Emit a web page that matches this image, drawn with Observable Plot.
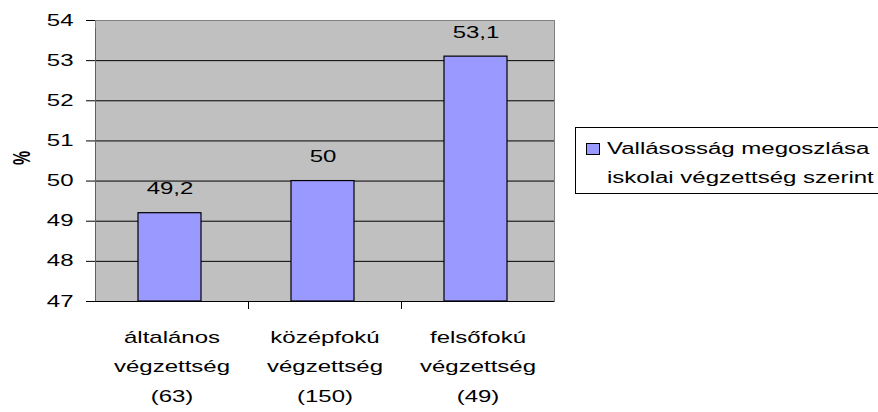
<!DOCTYPE html>
<html>
<head>
<meta charset="utf-8">
<script src="https://cdn.jsdelivr.net/npm/d3@7"></script>
<script src="https://cdn.jsdelivr.net/npm/@observablehq/plot@0.6"></script>
<style>
  html, body { margin: 0; padding: 0; background: #fff; }
  #wrap { position: relative; width: 878px; height: 412px; overflow: hidden; font-family: "Liberation Sans", Arial, sans-serif; }
  #legend { position: absolute; left: 575px; top: 127px; width: 320px; height: 67px; border: 1px solid #000; box-sizing: border-box; background: #fff; font-size: 16px; color: #000; }
  #legend .sw { position: absolute; left: 10px; top: 15px; width: 14px; height: 12px; background: #9999FF; border: 1px solid #000; box-sizing: border-box; }
  #legend .t { position: absolute; left: 31px; line-height: 29px; top: 6px; white-space: nowrap; transform: scaleX(1.5); transform-origin: 0 0; }
</style>
</head>
<body>
<div id="wrap"></div>
<script>
const categories = ["általános\nvégzettség\n(63)", "középfokú\nvégzettség\n(150)", "felsőfokú\nvégzettség\n(49)"];
const values = [49.2, 50, 53.1];
const valueLabels = ["49,2", "50", "53,1"];
const yTicks = [47, 48, 49, 50, 51, 52, 53, 54];
const gridTicks = [48, 49, 50, 51, 52, 53];
const seriesName = ["Vallásosság megoszlása", "iskolai végzettség szerint"];

const data = categories.map((c, i) => ({cat: c, value: values[i], label: valueLabels[i]}));

const W = 878, H = 412, ml = 95, mr = 324;
const step = (W - ml - mr) / categories.length;
const last = categories[categories.length - 1];

const chart = Plot.plot({
  width: W,
  height: H,
  marginLeft: ml,
  marginRight: mr,
  marginTop: 20,
  marginBottom: 111,
  style: {fontFamily: "Liberation Sans, Arial, sans-serif", fontSize: "16px", color: "#000", background: "transparent"},
  x: {domain: categories, padding: 0},
  y: {domain: [47, 54]},
  marks: [
    Plot.frame({fill: "#C0C0C0", stroke: "#808080"}),
    Plot.ruleY(gridTicks, {stroke: "#000", strokeWidth: 1}),
    Plot.barY(data, {x: "cat", y1: 47, y2: "value", fill: "#9999FF", stroke: "#000", strokeWidth: 1.2, insetLeft: 43, insetRight: 47}),
    Plot.text(data, {x: "cat", y: "value", text: "label", dy: -24, dx: -2, fontSize: 16, fill: "#000"}),
    Plot.ruleY([47], {stroke: "#000"}),
    Plot.ruleX([categories[0]], {dx: -step / 2, y1: 47, y2: 54, stroke: "#606060", insetBottom: -8}),
    Plot.ruleX([last], {dx: step / 2, y1: 47, y2: 54, stroke: "#808080", insetBottom: -8}),
    Plot.ruleX(categories.slice(1), {dx: -step / 2, y1: 47, y2: 47, stroke: "#000", insetBottom: -8}),
    Plot.axisY({ticks: yTicks, tickFormat: d => String(d), tickSize: 9, tickPadding: 13, fontSize: 16, label: null, stroke: "#000"}),
    Plot.axisX({tickSize: 0, tickPadding: 20, fontSize: 16, lineHeight: 1.85, label: null}),
    Plot.text(["%"], {frameAnchor: "left", dx: -73, dy: 4, rotate: -90, fontWeight: "bold", fontSize: 16, fill: "#000"})
  ]
});

// horizontal stretch of the glyphs, as in the reference rendering
chart.querySelectorAll("text").forEach(t => {
  const tr = t.getAttribute("transform");
  if (tr == null) return;
  if (/rotate/.test(tr)) t.setAttribute("transform", tr + " scale(1,1.5)");
  else t.setAttribute("transform", tr + " scale(1.5,1)");
});

const wrap = document.getElementById("wrap");
wrap.appendChild(chart);
const lg = document.createElement("div");
lg.id = "legend";
lg.innerHTML = '<div class="sw"></div><div class="t"></div>';
lg.querySelector(".t").innerHTML = seriesName.join("<br>");
wrap.appendChild(lg);
</script>
</body>
</html>
